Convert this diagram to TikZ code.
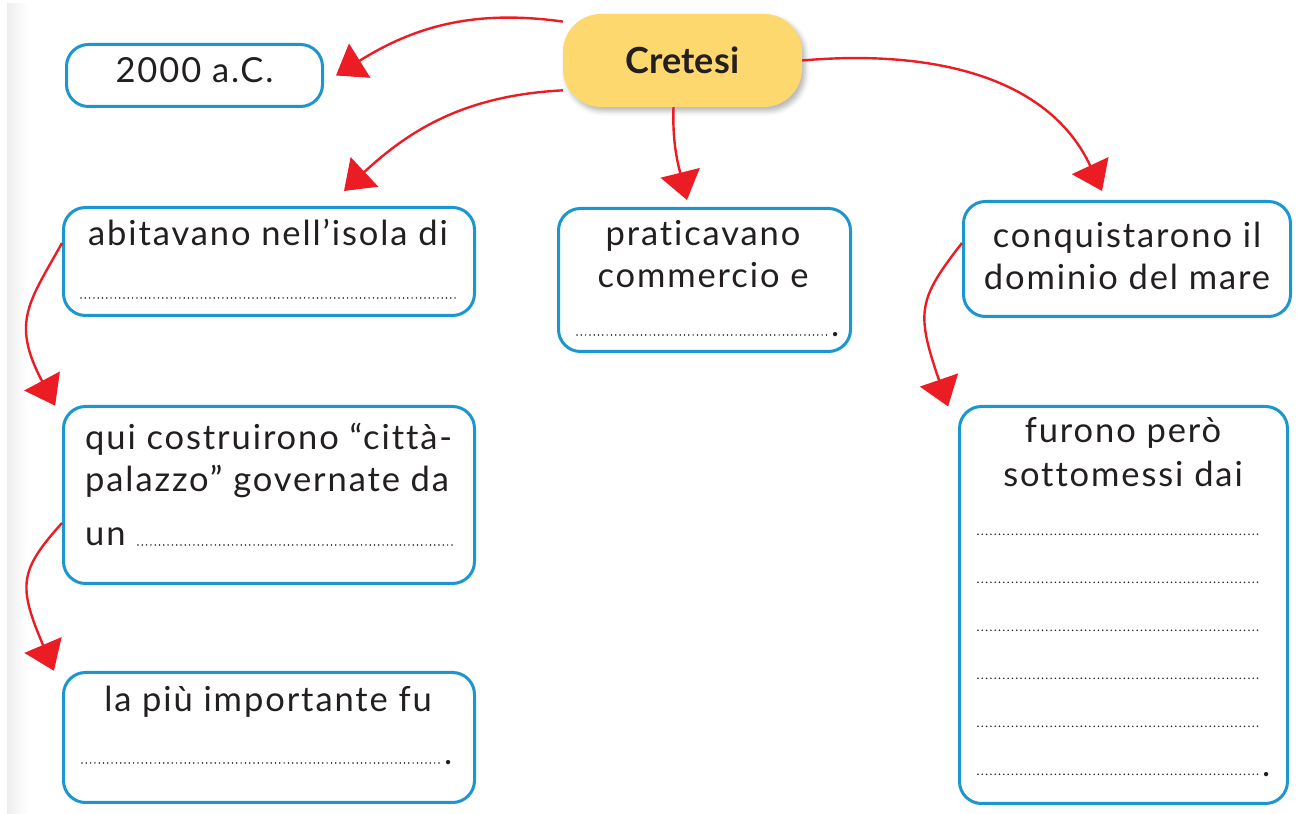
\documentclass[tikz,border=0pt]{standalone}
\usepackage{fontspec}
\setmainfont{Lato}
\newfontfamily\boxfont{Lato}[LetterSpace=5.5, Ligatures=NoCommon]
\usetikzlibrary{arrows.meta, positioning, shadows.blur}
\definecolor{boxblue}{HTML}{1B96CF}
\definecolor{mapred}{HTML}{EC1C24}
\definecolor{titleyellow}{HTML}{FDD86E}
\definecolor{inkgray}{HTML}{231F20}

\begin{document}
\begin{tikzpicture}[x = 1pt, y = 1pt, every node/.style = {inner sep = 0pt, text = inkgray},
	box/.style = {draw = boxblue, line width = 3pt, rounded corners = 22pt, fill = white},
	title/.style = {fill = titleyellow, rounded corners = 38pt, font = \fontsize{36}{40}\selectfont\bfseries,
		blur shadow = {shadow xshift = 3pt, shadow yshift = -4pt, shadow blur radius = 5pt, shadow opacity = 30}},
	txt/.style = {font = \boxfont\fontsize{34.5}{42}\selectfont, anchor = base, align = center},
	link/.style = {draw = mapred, line width = 2.4pt, -{Triangle[length = 28pt, width = 40pt]}},
	sidelink/.style = {link, shorten >= -28pt},
	blank/.style = {draw = inkgray, line width = 1.7pt, dash pattern = on 0pt off 4.3pt, line cap = round}]

	\useasboundingbox (0,0) rectangle (1299,814);
	\fill[left color = black!7, right color = white] (7,0) rectangle (27,810);

	\node (d2000)   at ( 194.5, 738.5) [box, minimum width = 256pt, minimum height =  62pt, font = \boxfont\fontsize{34.5}{42}\selectfont, text height = 24pt, text depth = 9pt] {2000 a.C.};
	\node (cretesi) at ( 682.5, 753.5) [title, minimum width = 239pt, minimum height = 93pt] {Cretesi};
	\node (abit)    at ( 269,   552.5) [box, minimum width = 411pt, minimum height = 108pt] {};
	\node (prat)    at ( 704.5, 534  ) [box, minimum width = 292pt, minimum height = 143pt] {};
	\node (conq)    at (1127,   555  ) [box, minimum width = 327pt, minimum height = 115pt] {};
	\node (qui)     at ( 269,   319  ) [box, minimum width = 411pt, minimum height = 177pt] {};
	\node (lapiu)   at ( 269,    76.5) [box, minimum width = 411pt, minimum height = 130pt] {};
	\node (furono)  at (1123.5, 209  ) [box, minimum width = 328pt, minimum height = 397pt] {};

	\node (abit-t)   at ( 268, 568) [txt] {abitavano nell’isola di};
	\node (prat-t)   at ( 703, 526) [txt] {praticavano\\commercio e};
	\node (conq-t)   at (1127, 524) [txt] {conquistarono il\\dominio del mare};
	\node (qui-t)    at (  85, 268) [txt, align = left, anchor = base west] {qui costruirono “città-\\palazzo” governate da\\[12pt]un};
	\node (lapiu-t)  at ( 268, 102) [txt] {la più importante fu};
	\node (furono-t) at (1123, 327) [txt] {furono però\\[2pt]sottomessi dai};

	\draw[blank] (81, 516) -- (456, 516);
	\draw[blank] (577, 479) -- (828, 479);
	\node (prat-e) at (831, 477) [txt, anchor = base west] {.};
	\draw[blank] (138, 269) -- (452, 269);
	\draw[blank] (82, 51) -- (440, 51);
	\node (lapiu-e) at (444, 49) [txt, anchor = base west] {.};
	\foreach \y in {279.7, 231.7, 183.7, 135.7, 87.7, 39.7}
		\draw[blank] (978, \y) -- (1260, \y);
	\node (furono-e) at (1262, 37.7) [txt, anchor = base west] {.};

	\draw[link] (cretesi.162) to[out = 172, in = 32] ([xshift = 12pt]d2000.east);
	\draw[link] (cretesi.194) to[out = 183, in = 43] ([shift = {(75pt, 15pt)}]abit.north);
	\draw[link] ([xshift = -9pt]cretesi.south) to[out = 268, in = 104] ([shift = {(-17.5pt, 7pt)}]prat.north);
	\draw[link] (cretesi.east) to[out = 5, in = 115] ([shift = {(-25pt, 9pt)}]conq.north);
	\draw[sidelink] ([yshift = 18.5pt]abit.west) to[out = 241, in = 118, looseness = 1.23] ([shift = {(-20pt, 24pt)}]qui.north west);
	\draw[sidelink] ([yshift = -28pt]qui.west) to[out = 228, in = 113, looseness = 1.33] ([shift = {(-19pt, 26pt)}]lapiu.north west);
	\draw[sidelink] ([yshift = 16pt]conq.west) to[out = 232, in = 109, looseness = 1.32] ([shift = {(-19pt, 25pt)}]furono.north west);

\end{tikzpicture}
\end{document}
